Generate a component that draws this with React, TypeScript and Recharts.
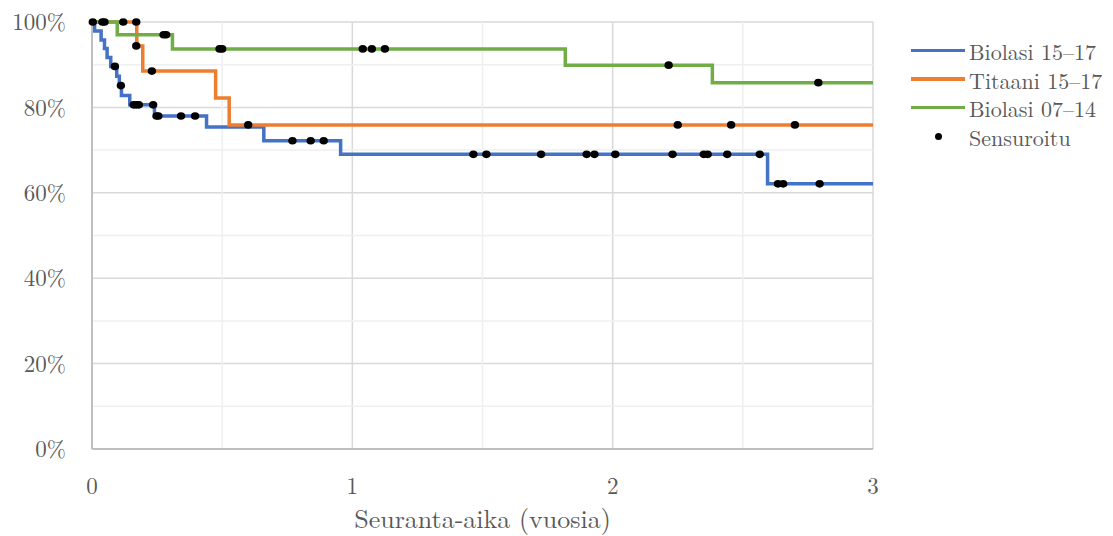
import React from "react";
import {
  ComposedChart,
  Line,
  Scatter,
  XAxis,
  YAxis,
  CartesianGrid,
  ReferenceLine,
} from "recharts";

// survival steps: [years, %]
const biolasi1517 = [
  { x: 0, y: 100 },
  { x: 0.01, y: 97.9 },
  { x: 0.035, y: 95.8 },
  { x: 0.048, y: 93.8 },
  { x: 0.058, y: 91.7 },
  { x: 0.072, y: 89.6 },
  { x: 0.095, y: 87.3 },
  { x: 0.105, y: 85.1 },
  { x: 0.113, y: 82.8 },
  { x: 0.145, y: 80.6 },
  { x: 0.24, y: 78.0 },
  { x: 0.44, y: 75.4 },
  { x: 0.66, y: 72.2 },
  { x: 0.955, y: 69.0 },
  { x: 2.595, y: 62.1 },
  { x: 3, y: 62.1 },
];

const titaani1517 = [
  { x: 0, y: 100 },
  { x: 0.172, y: 94.4 },
  { x: 0.195, y: 88.5 },
  { x: 0.475, y: 82.2 },
  { x: 0.527, y: 75.9 },
  { x: 3, y: 75.9 },
];

const biolasi0714 = [
  { x: 0, y: 100 },
  { x: 0.097, y: 97.0 },
  { x: 0.309, y: 93.7 },
  { x: 1.818, y: 89.9 },
  { x: 2.383, y: 85.8 },
  { x: 3, y: 85.8 },
];

const sensuroitu = [
  { x: 0.003, y: 100 }, { x: 0.04, y: 100 }, { x: 0.048, y: 100 },
  { x: 0.12, y: 100 }, { x: 0.17, y: 100 },
  // titaani
  { x: 0.17, y: 94.4 }, { x: 0.23, y: 88.5 }, { x: 0.6, y: 75.9 },
  { x: 2.25, y: 75.9 }, { x: 2.455, y: 75.9 }, { x: 2.7, y: 75.9 },
  // biolasi 07-14
  { x: 0.275, y: 97.0 }, { x: 0.285, y: 97.0 }, { x: 0.49, y: 93.7 },
  { x: 0.5, y: 93.7 }, { x: 1.04, y: 93.7 }, { x: 1.075, y: 93.7 },
  { x: 1.125, y: 93.7 }, { x: 2.215, y: 89.9 }, { x: 2.79, y: 85.8 },
  // biolasi 15-17
  { x: 0.088, y: 89.6 }, { x: 0.111, y: 85.1 }, { x: 0.16, y: 80.6 },
  { x: 0.17, y: 80.6 }, { x: 0.18, y: 80.6 }, { x: 0.235, y: 80.6 },
  { x: 0.248, y: 78.0 }, { x: 0.255, y: 78.0 }, { x: 0.342, y: 78.0 },
  { x: 0.396, y: 78.0 }, { x: 0.77, y: 72.2 }, { x: 0.84, y: 72.2 },
  { x: 0.89, y: 72.2 }, { x: 1.465, y: 69.0 }, { x: 1.515, y: 69.0 },
  { x: 1.725, y: 69.0 }, { x: 1.9, y: 69.0 }, { x: 1.93, y: 69.0 },
  { x: 2.01, y: 69.0 }, { x: 2.23, y: 69.0 }, { x: 2.35, y: 69.0 },
  { x: 2.365, y: 69.0 }, { x: 2.44, y: 69.0 }, { x: 2.565, y: 69.0 },
  { x: 2.635, y: 62.1 }, { x: 2.655, y: 62.1 }, { x: 2.795, y: 62.1 },
];

const xTicks = [0, 1, 2, 3];
const yTicks = [0, 20, 40, 60, 80, 100];
const xMinor = [0.5, 1.5, 2.5];
const yMinor = [10, 30, 50, 70, 90];

const series = [
  { name: "Biolasi 15–17", color: "#4472C4", data: biolasi1517 },
  { name: "Titaani 15–17", color: "#ED7D31", data: titaani1517 },
  { name: "Biolasi 07–14", color: "#70AD47", data: biolasi0714 },
];

const font = "'Latin Modern Roman', 'CMU Serif', 'Liberation Serif', serif";
const textColor = "#595959";

function LegendBox() {
  return (
    <div
      style={{
        position: "absolute",
        left: 911,
        top: 36,
        fontFamily: font,
        fontSize: 22,
        color: textColor,
        whiteSpace: "nowrap",
      }}
    >
      {series.map((s) => (
        <div key={s.name} style={{ display: "flex", alignItems: "center", height: 28.7 }}>
          <div style={{ width: 54, height: 3.5, background: s.color, marginRight: 4 }} />
          <span>{s.name}</span>
        </div>
      ))}
      <div style={{ display: "flex", alignItems: "center", height: 28.7 }}>
        <div style={{ width: 54, marginRight: 4, display: "flex", justifyContent: "center" }}>
          <div style={{ width: 7, height: 7, borderRadius: 4, background: "#000" }} />
        </div>
        <span>Sensuroitu</span>
      </div>
    </div>
  );
}

export default function App() {
  return (
    <div style={{ position: "absolute", left: 0, top: 0, width: 1113, height: 536, background: "#fff" }}>
      <ComposedChart
        width={1113}
        height={536}
        margin={{ top: 22, right: 240, bottom: 0, left: 0 }}
      >
        <CartesianGrid stroke="#d9d9d9" strokeWidth={1.5} />
        {xMinor.map((v) => (
          <ReferenceLine key={"x" + v} x={v} stroke="#efefef" strokeWidth={1.5} />
        ))}
        {yMinor.map((v) => (
          <ReferenceLine key={"y" + v} y={v} stroke="#efefef" strokeWidth={1.5} />
        ))}
        <XAxis
          type="number"
          dataKey="x"
          domain={[0, 3]}
          ticks={xTicks}
          height={87}
          tickLine={false}
          axisLine={{ stroke: "#bfbfbf", strokeWidth: 2 }}
          tickMargin={23}
          tick={{ fill: textColor, fontSize: 23, fontFamily: font }}
          label={{
            value: "Seuranta-aika (vuosia)",
            position: "insideBottom",
            offset: 8,
            fill: textColor,
            fontSize: 26,
            fontFamily: font,
          }}
        />
        <YAxis
          type="number"
          domain={[0, 100]}
          ticks={yTicks}
          width={92}
          tickLine={false}
          axisLine={{ stroke: "#bfbfbf", strokeWidth: 2 }}
          tickMargin={20}
          tickFormatter={(v) => `${v}%`}
          tick={{ fill: textColor, fontSize: 23, fontFamily: font }}
        />
        {series.map((s) => (
          <Line
            key={s.name}
            data={s.data}
            dataKey="y"
            name={s.name}
            type="stepAfter"
            stroke={s.color}
            strokeWidth={3.5}
            dot={false}
            activeDot={false}
            isAnimationActive={false}
          />
        ))}
        <Scatter
          data={sensuroitu}
          dataKey="y"
          name="Sensuroitu"
          fill="#000"
          isAnimationActive={false}
          shape={(p: any) => <ellipse cx={p.cx} cy={p.cy} rx={4.2} ry={3.8} fill="#000" />}
        />
      </ComposedChart>
      <LegendBox />
    </div>
  );
}
